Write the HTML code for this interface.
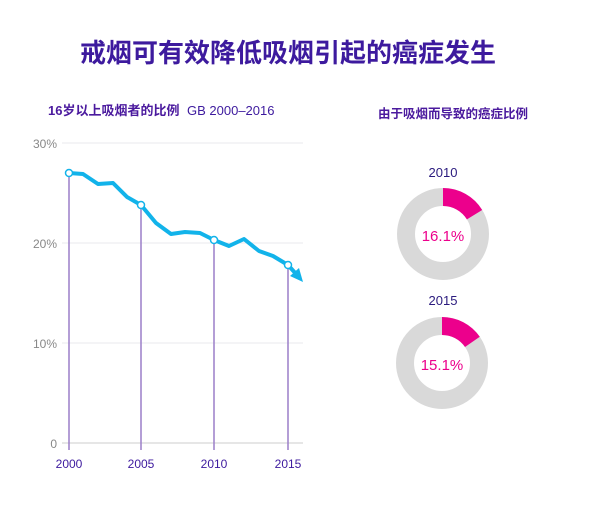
<!DOCTYPE html>
<html><head><meta charset="utf-8"><style>
body{margin:0;background:#fff;}
svg text{font-family:"Liberation Sans","Noto Sans CJK SC",sans-serif;}
</style></head><body>
<svg width="610" height="501" viewBox="0 0 610 501" xmlns="http://www.w3.org/2000/svg">
<text x="288" y="62" text-anchor="middle" font-size="26" font-weight="bold" fill="#3d1a9e">戒烟可有效降低吸烟引起的癌症发生</text>
<text x="48" y="115" font-size="13" font-weight="bold" fill="#4b1a9e">16岁以上吸烟者的比例</text>
<text x="187" y="115" font-size="13" fill="#3d1a9e">GB 2000–2016</text>
<g stroke="#e8e8ee" stroke-width="1">
<line x1="62" y1="143" x2="303" y2="143"/><line x1="62" y1="243" x2="303" y2="243"/><line x1="62" y1="343" x2="303" y2="343"/><line x1="62" y1="443" x2="303" y2="443" stroke="#ccc"/>
</g>
<g font-size="12" fill="#888" text-anchor="end">
<text x="57" y="148">30%</text><text x="57" y="248">20%</text><text x="57" y="348">10%</text><text x="57" y="448">0</text>
</g>
<g stroke="#9b7fc9" stroke-width="1.5">
<line x1="69" y1="173" x2="69" y2="450"/><line x1="141" y1="205" x2="141" y2="450"/><line x1="214" y1="240" x2="214" y2="450"/><line x1="288" y1="265" x2="288" y2="450"/>
</g>
<polyline fill="none" stroke="#12b3ea" stroke-width="4" stroke-linejoin="round" points="69,173 83,174 98,184 113,183 127,197 141,205 156,223 171,234 185,232 200,233 214,240 229,246 244,239 259,251 273,256 288,265 297,275"/>
<polygon points="303,282 290,276 299,268" fill="#12b3ea"/>
<g fill="#fff" stroke="#12b3ea" stroke-width="1.5">
<circle cx="69" cy="173" r="3.5"/><circle cx="141" cy="205" r="3.5"/><circle cx="214" cy="240" r="3.5"/><circle cx="288" cy="265" r="3.5"/>
</g>
<g font-size="12" fill="#3d1a9e" text-anchor="middle">
<text x="69" y="468">2000</text><text x="141" y="468">2005</text><text x="214" y="468">2010</text><text x="288" y="468">2015</text>
</g>
<text x="378" y="118" font-size="12.5" font-weight="bold" fill="#4b1a9e">由于吸烟而导致的癌症比例</text>
<text x="443" y="177" font-size="13" fill="#2a1a7e" text-anchor="middle">2010</text>
<circle cx="443" cy="234" r="37" fill="none" stroke="#d9d9d9" stroke-width="18"/>
<path d="M443,234 L443,188 A46,46 0 0,1 482.2,210 L466.9,219.4 A28,28 0 0,0 443,206 Z" fill="#ec008c"/>
<text x="443" y="241" font-size="15" fill="#ec008c" text-anchor="middle">16.1%</text>
<text x="443" y="305" font-size="13" fill="#2a1a7e" text-anchor="middle">2015</text>
<circle cx="442" cy="363" r="37" fill="none" stroke="#d9d9d9" stroke-width="18"/>
<path d="M442,317 A46,46 0 0,1 479.8,336.8 L465,347 A28,28 0 0,0 442,335 Z" fill="#ec008c"/>
<text x="442" y="370" font-size="15" fill="#ec008c" text-anchor="middle">15.1%</text>
</svg>
</body></html>
